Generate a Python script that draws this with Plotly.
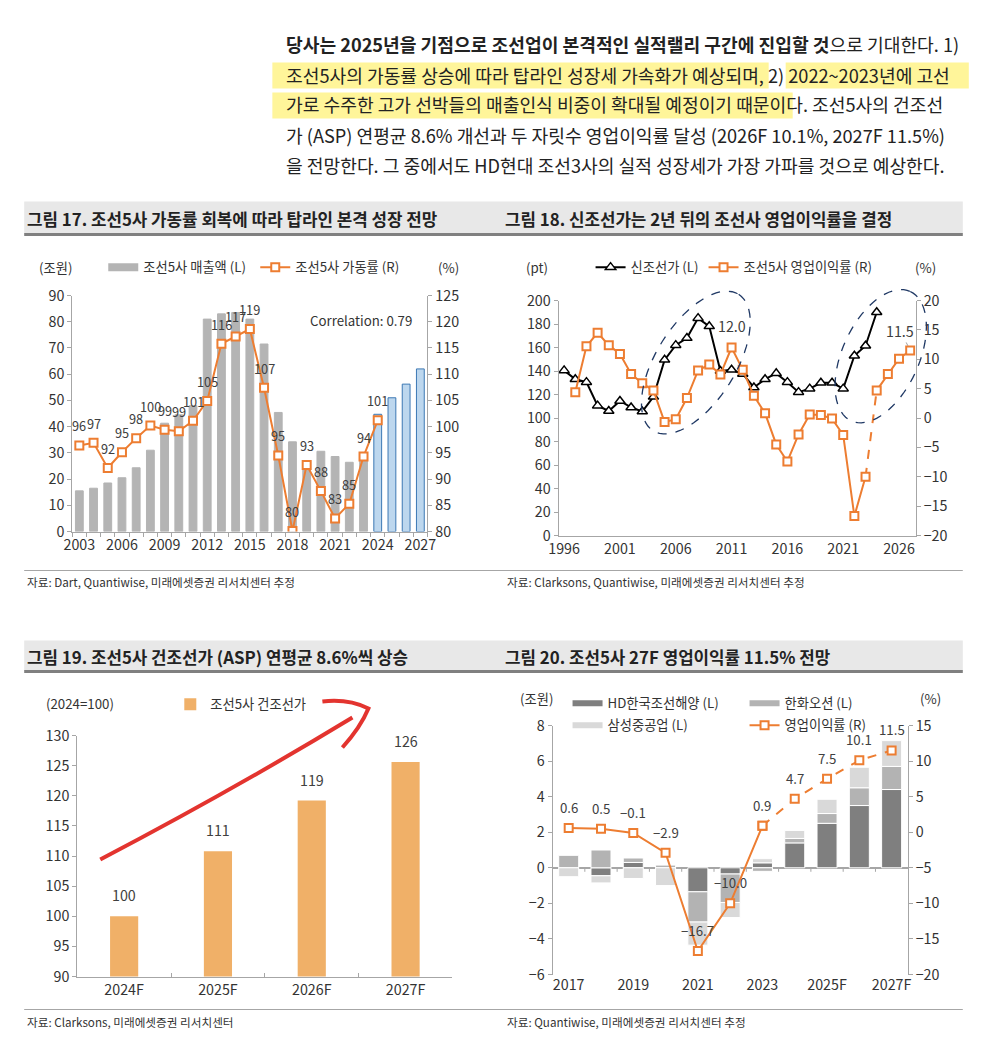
import numpy as np
import plotly.graph_objects as go

W, H = 981, 1050
# the photographed page comes out slightly shrunk about its centre; compensate
SHRINK = 0.98
CX, CY = W / 2, H / 2
FONT = "Noto Sans CJK KR, Noto Sans, sans-serif"
TXT = "#333333"
AX = "#A6A6A6"
ORANGE = "#ED7D31"

# ---------------- data ----------------
# Fig 17
years17 = list(range(2003, 2028))
sales17 = [15.5, 16.5, 18.5, 20.5, 24.3, 31.0, 41.3, 44.5, 48.0, 81.0, 83.0, 83.5, 81.0,
           71.5, 45.4, 34.2, 27.0, 30.6, 28.6, 26.4, 29.5, 44.7, 51.0, 56.2, 62.0]
forecast_start17 = 2024
util_years17 = list(range(2003, 2025))
util17 = [96.4, 96.9, 92.1, 95.1, 97.8, 100.2, 99.4, 99.1, 101.1, 104.9, 115.8, 117.2,
          118.6, 107.4, 94.5, 80.1, 92.7, 87.7, 82.5, 85.3, 94.3, 101.2]
util17_labels = ["96", "97", "92", "95", "98", "100", "99", "99", "101", "105", "116", "117",
                 "119", "107", "95", "80", "93", "88", "83", "85", "94", "101"]

# Fig 18
years_ncp = list(range(1996, 2025))
ncp = [140.5, 133, 130.5, 110.5, 106, 114.5, 109, 105.5, 118, 149.5, 162, 168, 185, 178,
       140, 141, 137.5, 126, 133, 138, 130.5, 122, 125, 130, 130, 125, 153, 161.5, 190]
years_opm = list(range(1997, 2028))
opm = [4.4, 12.2, 14.5, 12.4, 10.9, 7.5, 5.9, 4.7, -0.7, -0.2, 3.4, 8.1, 9.1, 7.4, 12.0,
       8.2, 3.8, 0.8, -4.5, -7.4, -2.8, 0.6, 0.5, -0.1, -2.9, -16.7, -10.0, 4.7, 7.5, 10.1, 11.5]
dash_from18, dash_to18 = 2023, 2024

# Fig 19
cats19 = ["2024F", "2025F", "2026F", "2027F"]
asp19 = [100, 110.8, 119.2, 125.6]
asp19_labels = ["100", "111", "119", "126"]

# Fig 20
cats20 = ["2017", "2018", "2019", "2020", "2021", "2022", "2023", "2024F", "2025F", "2026F", "2027F"]
ticks20 = ["2017", "2019", "2021", "2023", "2025F", "2027F"]
hd20 = [0.0, -0.45, 0.3, 0.0, -1.35, -0.35, 0.28, 1.4, 2.5, 3.5, 4.4]
hanwha20 = [0.7, 1.0, 0.25, 0.15, -1.7, -1.6, -0.2, 0.25, 0.55, 1.0, 1.3]
samsung20 = [-0.5, -0.4, -0.6, -1.0, -1.3, -0.85, 0.23, 0.45, 0.8, 1.15, 1.45]
margin20 = [0.6, 0.5, -0.1, -2.9, -16.7, -10.0, 0.9, 4.7, 7.5, 10.1, 11.5]
margin20_labels = ["0.6", "0.5", "\u22120.1", "\u22122.9", "\u221216.7", "\u221210.0",
                   "0.9", "4.7", "7.5", "10.1", "11.5"]
solid_until20 = "2023"


def PX(x):
    return ((x - CX) / SHRINK + CX) / W


def PY(y):
    return 1 - ((y - CY) / SHRINK + CY) / H


def F(s):
    return round(s / SHRINK, 2)


# ---------------- layout geometry (target pixels) ----------------
D17 = dict(x=(72, 427), y=(294, 530))
D18 = dict(x=(558, 915), y=(299, 534))
D19 = dict(x=(77, 452), y=(734, 975))
D20 = dict(x=(552, 907), y=(724, 973))


def xdom(d):
    return [PX(d["x"][0]), PX(d["x"][1])]


def ydom(d):
    return [PY(d["y"][1]), PY(d["y"][0])]


fig = go.Figure()

# ---------------- Fig 17 ----------------
bar_col17 = ["#B4B4B4" if y < forecast_start17 else "#BDD7EE" for y in years17]
bar_line17 = ["#B4B4B4" if y < forecast_start17 else "#3C78B4" for y in years17]
fig.add_trace(go.Bar(x=years17, y=sales17, width=0.55, xaxis="x", yaxis="y",
                     marker=dict(color=bar_col17, line=dict(color=bar_line17, width=1)),
                     showlegend=False))
fig.add_trace(go.Scatter(x=[None], y=[None], mode="lines", xaxis="x", yaxis="y",
                         line=dict(color="#B4B4B4", width=8), name="조선5사 매출액 (L)",
                         legend="legend"))
fig.add_trace(go.Scatter(x=util_years17, y=util17, mode="lines+markers", xaxis="x", yaxis="y2",
                         line=dict(color=ORANGE, width=2),
                         marker=dict(symbol="square", size=8, color="white",
                                     line=dict(color=ORANGE, width=2)),
                         name="조선5사 가동률 (R)", legend="legend"))

# ---------------- Fig 18 ----------------
fig.add_trace(go.Scatter(x=years_ncp, y=ncp, mode="lines+markers", xaxis="x2", yaxis="y3",
                         line=dict(color="black", width=2),
                         marker=dict(symbol="triangle-up", size=9, color="white",
                                     line=dict(color="black", width=1.5)),
                         name="신조선가 (L)", legend="legend2"))
iA = years_opm.index(dash_from18)
iB = years_opm.index(dash_to18)
opm_marker = dict(symbol="square", size=8, color="white", line=dict(color=ORANGE, width=2))
fig.add_trace(go.Scatter(x=years_opm[iA:iB + 1], y=opm[iA:iB + 1], mode="lines",
                         xaxis="x2", yaxis="y4", line=dict(color=ORANGE, width=2, dash="dash"),
                         showlegend=False))
fig.add_trace(go.Scatter(x=years_opm[:iA + 1], y=opm[:iA + 1], mode="lines+markers",
                         xaxis="x2", yaxis="y4", line=dict(color=ORANGE, width=2),
                         marker=opm_marker, name="조선5사 영업이익률 (R)", legend="legend2"))
fig.add_trace(go.Scatter(x=years_opm[iB:], y=opm[iB:], mode="lines+markers",
                         xaxis="x2", yaxis="y4", line=dict(color=ORANGE, width=2),
                         marker=opm_marker, showlegend=False))

# ---------------- Fig 19 ----------------
fig.add_trace(go.Bar(x=cats19, y=asp19, width=0.3, xaxis="x3", yaxis="y5",
                     marker=dict(color="#F0B068", line=dict(width=0)),
                     name="조선5사 건조선가", legend="legend3"))

# ---------------- Fig 20 ----------------
comp20 = [("HD한국조선해양 (L)", hd20, "#7F7F7F", "legend4"),
          ("한화오션 (L)", hanwha20, "#B3B3B3", "legend4"),
          ("삼성중공업 (L)", samsung20, "#D9D9D9", "legend5")]
for name, vals, col, lg in comp20:
    fig.add_trace(go.Bar(x=cats20, y=vals, width=0.62, xaxis="x4", yaxis="y6",
                         marker=dict(color=col, line=dict(color="white", width=1)),
                         showlegend=False, name=name))
for name, vals, col, lg in comp20:
    fig.add_trace(go.Scatter(x=[None], y=[None], mode="lines", xaxis="x4", yaxis="y6",
                             line=dict(color=col, width=6), name=name, legend=lg))
iS = cats20.index(solid_until20)
fig.add_trace(go.Scatter(x=cats20[iS:], y=margin20[iS:], mode="lines+markers",
                         xaxis="x4", yaxis="y7", line=dict(color=ORANGE, width=2, dash="dash"),
                         marker=opm_marker, showlegend=False))
fig.add_trace(go.Scatter(x=cats20[:iS + 1], y=margin20[:iS + 1], mode="lines+markers",
                         xaxis="x4", yaxis="y7", line=dict(color=ORANGE, width=2),
                         marker=opm_marker, name="영업이익률 (R)", legend="legend5"))

# ---------------- axes ----------------
tickfont = dict(size=F(14), color=TXT, family=FONT)
yax_common = dict(showgrid=False, zeroline=False, showline=True, linecolor=AX, linewidth=1,
                  ticks="outside", ticklen=4, tickcolor=AX, tickfont=tickfont)

layout = dict(
    xaxis=dict(domain=xdom(D17), anchor="y", range=[2002.5, 2027.5], tickmode="linear",
               tick0=2003, dtick=3, showgrid=False, zeroline=False, showline=True,
               linecolor=AX, ticks="", tickfont=tickfont,
               minor=dict(tick0=2002.5, dtick=1, ticks="outside", ticklen=4, tickcolor=AX,
                          showgrid=False)),
    yaxis=dict(domain=ydom(D17), anchor="x", range=[0, 90], dtick=10, **yax_common),
    yaxis2=dict(overlaying="y", side="right", anchor="x", range=[80, 125], dtick=5, **yax_common),

    xaxis2=dict(domain=xdom(D18), anchor="y3", range=[1995.5, 2027.5], tickmode="linear",
                tick0=1996, dtick=5, showgrid=False, zeroline=False, showline=True,
                linecolor=AX, ticks="", tickfont=tickfont),
    yaxis3=dict(domain=ydom(D18), anchor="x2", range=[0, 200], dtick=20, **yax_common),
    yaxis4=dict(overlaying="y3", side="right", anchor="x2", range=[-20, 20], dtick=5, **yax_common),

    xaxis3=dict(domain=xdom(D19), anchor="y5", type="category", range=[-0.5, 3.5],
                showgrid=False, zeroline=False, showline=True, linecolor=AX,
                ticks="inside", tickson="boundaries", ticklen=4, tickcolor=AX, tickfont=tickfont),
    yaxis5=dict(domain=ydom(D19), anchor="x3", range=[90, 130], dtick=5, **yax_common),

    xaxis4=dict(domain=xdom(D20), anchor="y6", type="category", range=[-0.5, 10.5],
                categoryorder="array", categoryarray=cats20,
                tickmode="array", tickvals=ticks20, ticktext=ticks20,
                showgrid=False, zeroline=False, showline=False, ticks="", tickfont=tickfont),
    yaxis6=dict(domain=ydom(D20), anchor="x4", range=[-6, 8], dtick=2,
                **{**yax_common, "zeroline": True}, zerolinecolor=AX, zerolinewidth=1.5),
    yaxis7=dict(overlaying="y6", side="right", anchor="x4", range=[-20, 15], dtick=5, **yax_common),
)


# ---------------- legends ----------------
def leg(x, y, ew):
    d = dict(orientation="h", x=PX(x), y=PY(y), xanchor="left", yanchor="middle",
             bgcolor="rgba(0,0,0,0)", font=dict(size=F(13), color=TXT, family=FONT),
             traceorder="normal", itemclick=False, itemdoubleclick=False)
    if ew:
        d.update(entrywidthmode="pixels", entrywidth=ew)
    return d


layout["legend"] = leg(103, 266, 107)
layout["legend2"] = leg(590, 266, 0)
layout["legend3"] = leg(170, 703, 0)
layout["legend4"] = leg(567, 702, 132)
layout["legend5"] = leg(567, 724, 132)

# ---------------- annotations ----------------
ann = []


def ptext(x, y, text, size=13, anchor="center", color=TXT, bold=False):
    if bold:
        text = "<b>" + text + "</b>"
    ann.append(dict(x=PX(x), y=PY(y), xref="paper", yref="paper", text=text, showarrow=False,
                    xanchor=anchor, yanchor="middle",
                    font=dict(size=F(size), color=color, family=FONT)))


# paragraph
para = [
    "<b>당사는 2025년을 기점으로 조선업이 본격적인 실적랠리 구간에 진입할 것</b>으로 기대한다. 1)",
    "조선5사의 가동률 상승에 따라 탑라인 성장세 가속화가 예상되며, 2) 2022~2023년에 고선",
    "가로 수주한 고가 선박들의 매출인식 비중이 확대될 예정이기 때문이다. 조선5사의 건조선",
    "가 (ASP) 연평균 8.6% 개선과 두 자릿수 영업이익률 달성 (2026F 10.1%, 2027F 11.5%)",
    "을 전망한다. 그 중에서도 HD현대 조선3사의 실적 성장세가 가장 가파를 것으로 예상한다.",
]
for i, line in enumerate(para):
    ptext(284, 43 + 30 * i, line, size=17.8, anchor="left", color="#222222")

# titles
ptext(25, 217, "그림 17. 조선5사 가동률 회복에 따라 탑라인 본격 성장 전망", 16.5, "left", "#222222", True)
ptext(502, 217, "그림 18. 신조선가는 2년 뒤의 조선사 영업이익률을 결정", 16.5, "left", "#222222", True)
ptext(25, 655, "그림 19. 조선5사 건조선가 (ASP) 연평균 8.6%씩 상승", 16.5, "left", "#222222", True)
ptext(502, 655, "그림 20. 조선5사 27F 영업이익률 11.5% 전망", 16.5, "left", "#222222", True)

# sources
ptext(25, 580, "자료: Dart, Quantiwise, 미래에셋증권 리서치센터 추정", 11.4, "left")
ptext(504, 580, "자료: Clarksons, Quantiwise, 미래에셋증권 리서치센터 추정", 11.4, "left")
ptext(25, 1020, "자료: Clarksons, 미래에셋증권 리서치센터", 11.4, "left")
ptext(504, 1020, "자료: Quantiwise, 미래에셋증권 리서치센터 추정", 11.4, "left")

# units
ptext(55, 266, "(조원)")
ptext(448, 266, "(%)")
ptext(536, 266, "(pt)")
ptext(925, 266, "(%)")
ptext(80, 702, "(2024=100)")
ptext(536, 697, "(조원)")
ptext(930, 697, "(%)")
ptext(414, 319, "Correlation: 0.79", 13, "right")

# data labels
lab_font = dict(size=F(12.5), color="#404040", family=FONT)
for yr, v, lab in zip(util_years17, util17, util17_labels):
    ann.append(dict(x=yr, y=v, xref="x", yref="y2", text=lab, showarrow=False,
                    yanchor="bottom", yshift=8, font=lab_font))
ann.append(dict(x=2011, y=opm[years_opm.index(2011)], xref="x2", yref="y4", text="12.0",
                showarrow=False, yanchor="bottom", yshift=10,
                font=dict(size=F(14), color="#404040", family=FONT)))
ann.append(dict(x=years_opm[-1], y=opm[-1], xref="x2", yref="y4", text="11.5",
                showarrow=True, arrowhead=0, arrowwidth=1, arrowcolor="#A0A0A0",
                ax=-10, ay=-20, standoff=5,
                font=dict(size=F(14), color="#404040", family=FONT)))
for i, (v, lab) in enumerate(zip(asp19, asp19_labels)):
    ann.append(dict(x=i, y=v, xref="x3", yref="y5", text=lab, showarrow=False,
                    yanchor="bottom", yshift=9, font=dict(size=F(14), color="#404040", family=FONT)))
for i, (v, lab) in enumerate(zip(margin20, margin20_labels)):
    ann.append(dict(x=i, y=v, xref="x4", yref="y7", text=lab, showarrow=False,
                    yanchor="bottom", yshift=9, font=dict(size=F(13), color="#404040", family=FONT)))

layout["annotations"] = ann

# ---------------- shapes ----------------
shapes = []
# header bands
for (y0, y1) in [(200, 233), (639, 670)]:
    shapes.append(dict(type="rect", xref="paper", yref="paper", x0=PX(24), x1=PX(962),
                       y0=PY(y1), y1=PY(y0), fillcolor="#E8E8E8", line=dict(width=0), layer="below"))
    shapes.append(dict(type="line", xref="paper", yref="paper", x0=PX(24), x1=PX(962),
                       y0=PY(y1), y1=PY(y1), line=dict(color="#808080", width=3)))
# source separators
for y in (569, 1008):
    shapes.append(dict(type="line", xref="paper", yref="paper", x0=PX(24), x1=PX(962),
                       y0=PY(y), y1=PY(y), line=dict(color="#A6A6A6", width=1)))
# highlighter marks in paragraph
for (x0, x1, y0, y1) in [(272, 768, 61, 87), (785, 968, 61, 87), (272, 792, 91, 117)]:
    shapes.append(dict(type="rect", xref="paper", yref="paper", x0=PX(x0), x1=PX(x1),
                       y0=PY(y1), y1=PY(y0), fillcolor="#FFF59A", line=dict(width=0), layer="below"))

# zero-line ticks for fig 20 (category boundaries)
for i in range(1, len(cats20)):
    shapes.append(dict(type="line", xref="x4", yref="y6", x0=i - 0.5, x1=i - 0.5,
                       ysizemode="pixel", yanchor=0, y0=0, y1=-4, line=dict(color=AX, width=1)))


# dashed ellipses on fig 18 (center in data coords, semi-axes in px, tilt in degrees)
def data_to_px18(year, val):
    (xa, xb), (ya, yb) = D18["x"], D18["y"]
    px = xa + (year - 1995.5) / (2027.5 - 1995.5) * (xb - xa)
    py = yb - (val - 0) / (200 - 0) * (yb - ya)
    return px, py


def ellipse_path(cyear, cval, a, b, theta):
    cx, cy = data_to_px18(cyear, cval)
    t = np.radians(theta)
    phi = np.linspace(0, 2 * np.pi, 73)
    xs = cx + a * np.cos(phi) * np.cos(t) + b * np.sin(phi) * np.sin(t)
    ys = cy - a * np.cos(phi) * np.sin(t) + b * np.sin(phi) * np.cos(t)
    pts = [f"{PX(x):.5f},{PY(y):.5f}" for x, y in zip(xs, ys)]
    return "M " + " L ".join(pts) + " Z"


for (cy, cv, a, b, th) in [(2007.8, 147.2, 80.5, 39.6, 57.9), (2024.36, 152.6, 71.1, 38.3, 65.5)]:
    shapes.append(dict(type="path", xref="paper", yref="paper", path=ellipse_path(cy, cv, a, b, th),
                       line=dict(color="#1F3864", width=1.3, dash="dash")))


# red hand-drawn arrow on fig 19
def P(x, y):
    return f"{PX(x):.5f},{PY(y):.5f}"


shapes.append(dict(type="path", xref="paper", yref="paper",
                   path=f"M {P(100, 858)} Q {P(230, 790)} {P(352, 716)}",
                   line=dict(color="#E3342F", width=4)))
shapes.append(dict(type="path", xref="paper", yref="paper",
                   path=f"M {P(322, 700)} Q {P(348, 697)} {P(368, 707)} Q {P(360, 726)} {P(342, 746)}",
                   line=dict(color="#E3342F", width=4)))

layout["shapes"] = shapes

fig.update_layout(
    width=W, height=H, margin=dict(l=0, r=0, t=0, b=0),
    paper_bgcolor="white", plot_bgcolor="white",
    font=dict(family=FONT, color=TXT, size=13),
    barmode="relative", showlegend=True, hovermode=False,
    **layout,
)

fig.write_html("out.html", config={"displayModeBar": False},
               post_script="document.body.style.margin='0';")
